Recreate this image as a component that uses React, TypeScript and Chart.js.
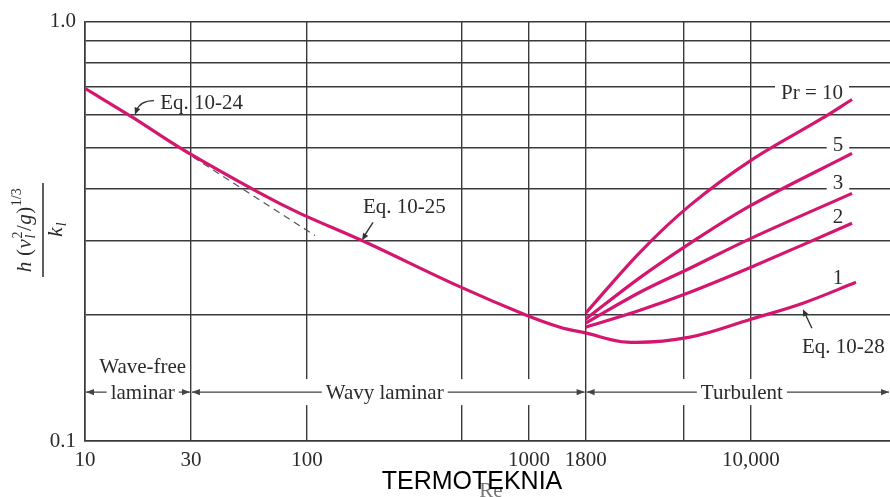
import React, { useEffect, useRef } from "react";
import { Chart, registerables } from "chart.js";

Chart.register(...registerables);

// ---------- data ----------
const xTickValues = [10, 30, 100, 500, 1000, 1800, 5000, 10000];
const xTickLabels = ["10", "30", "100", "", "1000", "1800", "", "10,000"];
const yTickValues = [0.1, 0.2, 0.3, 0.4, 0.5, 0.6, 0.7, 0.8, 0.9, 1.0];
const yTickLabels = ["0.1", "", "", "", "", "", "", "", "", "1.0"];
const xMin = 10;
const xMax = 42300;

// laminar (Eq. 10-24 / 10-25)
const laminarRe = [10, 16.4, 26.8, 61.4, 92.9, 177, 479, 949, 1380, 1800];
const laminarH = [0.693, 0.591, 0.5, 0.39, 0.349, 0.3006, 0.2343, 0.2006, 0.1868, 0.181];

// extension of Eq. 10-24 (dashed)
const dashedRe = [27.6, 108.7];
const dashedH = [0.493, 0.309];

// turbulent, Pr = 1 (Eq. 10-28)
const pr1Re = [1800, 2763, 5310, 10000, 17150, 29720];
const pr1H = [0.181, 0.1721, 0.1769, 0.1952, 0.2131, 0.239];
// Pr = 2
const pr2Re = [1800, 3162, 5310, 10000, 28530];
const pr2H = [0.1868, 0.205, 0.2263, 0.2596, 0.3304];
// Pr = 3
const pr3Re = [1800, 3162, 5310, 10000, 28530];
const pr3H = [0.191, 0.2263, 0.2582, 0.3042, 0.3895];
// Pr = 5
const pr5Re = [1800, 3162, 5310, 10000, 28530];
const pr5H = [0.1952, 0.2452, 0.296, 0.3646, 0.485];
// Pr = 10
const pr10Re = [1800, 3162, 5310, 10000, 20890, 28530];
const pr10H = [0.2017, 0.2818, 0.3646, 0.4668, 0.5875, 0.652];

// curve labels (text, Re, h)
const prLabelText = ["Pr = 10", "5", "3", "2", "1"];
const prLabelRe = [18840, 24660, 24660, 24660, 24660];
const prLabelH = [0.6776, 0.5095, 0.4136, 0.3434, 0.2457];

// regime arrows
const regimeText = [["Wave-free", "laminar"], ["Wavy laminar"], ["Turbulent"]];
const regimeFrom = [10, 30, 1800];
const regimeTo = [30, 1800, xMax];
const regimeCenterRe = [18.2, 224, 9100];
const regimeArrowH = 0.1308;
const regimeUpperH = 0.15;

// ---------- styles ----------
const SERIF = '"Liberation Serif", "Times New Roman", serif';
const SANS = '"Liberation Sans", Arial, sans-serif';
const MAGENTA = "#d4166f";
const GRID = "#3a3a3a";
const TEXT = "#2b2b2b";

const pts = (xs: number[], ys: number[]) => xs.map((x, i) => ({ x, y: ys[i] }));

function arrowHead(ctx: CanvasRenderingContext2D, x: number, y: number, ang: number, len = 8, w = 3.2) {
  ctx.beginPath();
  ctx.moveTo(x, y);
  ctx.lineTo(x - len * Math.cos(ang) + w * Math.sin(ang), y - len * Math.sin(ang) - w * Math.cos(ang));
  ctx.lineTo(x - len * Math.cos(ang) - w * Math.sin(ang), y - len * Math.sin(ang) + w * Math.cos(ang));
  ctx.closePath();
  ctx.fill();
}

const annotPlugin = {
  id: "annot",
  beforeDatasetsDraw(chart: any) {
    const { ctx, chartArea: ca, scales } = chart;
    const X = (v: number) => scales.x.getPixelForValue(v);
    const Y = (v: number) => scales.y.getPixelForValue(v);
    ctx.save();

    // white band for regime arrows
    const ay = Y(regimeArrowH);
    ctx.fillStyle = "#fff";
    for (let i = 0; i < regimeFrom.length; i++) {
      const a = X(regimeFrom[i]);
      const b = Math.min(X(regimeTo[i]), ca.right);
      ctx.fillRect(a + 1.5, ay - 13, b - a - 3, 26);
    }
    ctx.font = `21px ${SERIF}`;
    ctx.textBaseline = "middle";
    ctx.textAlign = "center";
    ctx.strokeStyle = "#444";
    ctx.lineWidth = 1.3;
    for (let i = 0; i < regimeFrom.length; i++) {
      const a = X(regimeFrom[i]) + 1;
      const b = Math.min(X(regimeTo[i]), ca.right) - 1;
      const lines = regimeText[i];
      const cx = X(regimeCenterRe[i]);
      const main = lines[lines.length - 1];
      const w = ctx.measureText(main).width;
      ctx.fillStyle = TEXT;
      ctx.fillText(main, cx, ay + 1);
      if (lines.length > 1) ctx.fillText(lines[0], cx, Y(regimeUpperH));
      ctx.beginPath();
      ctx.moveTo(a, ay);
      ctx.lineTo(cx - w / 2 - 4, ay);
      ctx.moveTo(cx + w / 2 + 4, ay);
      ctx.lineTo(b, ay);
      ctx.stroke();
      ctx.fillStyle = "#444";
      arrowHead(ctx, a, ay, Math.PI);
      arrowHead(ctx, b, ay, 0);
    }

    // Pr labels with white boxes
    ctx.font = `21px ${SERIF}`;
    for (let i = 0; i < prLabelText.length; i++) {
      const x = X(prLabelRe[i]);
      const y = Y(prLabelH[i]);
      const w = ctx.measureText(prLabelText[i]).width;
      ctx.fillStyle = "#fff";
      ctx.fillRect(x - w / 2 - 6, y - 9, w + 12, 18);
      ctx.fillStyle = TEXT;
      ctx.fillText(prLabelText[i], x, y + 1);
    }

    // Equation labels
    ctx.textAlign = "left";
    ctx.fillStyle = TEXT;
    ctx.fillText("Eq. 10-24", X(21.8), Y(0.638));
    ctx.fillText("Eq. 10-25", X(178.6), Y(0.3606));
    ctx.fillText("Eq. 10-28", X(16980), Y(0.1675));

    ctx.strokeStyle = "#333";
    ctx.fillStyle = "#333";
    ctx.lineWidth = 1.4;
    // Eq. 10-24 curved arrow
    {
      const tx = X(16.8), ty = Y(0.6);
      ctx.beginPath();
      ctx.moveTo(tx + 19, ty - 14);
      ctx.quadraticCurveTo(tx + 5, ty - 14, tx + 1.5, ty - 4);
      ctx.stroke();
      arrowHead(ctx, tx, ty, Math.atan2(14, -5), 7, 3);
    }
    // Eq. 10-25
    {
      const tx = X(177), ty = Y(0.301);
      ctx.beginPath();
      ctx.moveTo(tx + 11, ty - 18);
      ctx.lineTo(tx + 2, ty - 4);
      ctx.stroke();
      arrowHead(ctx, tx, ty, Math.atan2(18, -11), 7, 3);
    }
    // Eq. 10-28
    {
      const tx = X(17140), ty = Y(0.2062);
      ctx.beginPath();
      ctx.moveTo(tx + 9, ty + 19);
      ctx.lineTo(tx + 2, ty + 4);
      ctx.stroke();
      arrowHead(ctx, tx, ty, Math.atan2(-19, -9), 7, 3);
    }
    ctx.restore();
  },
  afterDraw(chart: any) {
    const { ctx } = chart;
    ctx.save();
    // y axis title
    ctx.translate(43, 230);
    ctx.rotate(-Math.PI / 2);
    ctx.fillStyle = TEXT;
    const fI = `italic 21px ${SERIF}`;
    const fR = `21px ${SERIF}`;
    const sI = `italic 14px ${SERIF}`;
    const sR = `14px ${SERIF}`;
    const base = -12;
    type Part = { t: string; f: string; dy: number; sub?: { t: string; f: string; dy: number } };
    const parts: Part[] = [
      { t: "h", f: fI, dy: 0 },
      { t: " (", f: fR, dy: 0 },
      { t: "ν", f: fI, dy: 0 },
      { t: "2", f: sR, dy: -9, sub: { t: "l", f: sI, dy: 4 } },
      { t: "/", f: fR, dy: 0 },
      { t: "g", f: fI, dy: 0 },
      { t: ")", f: fR, dy: 0 },
      { t: "1/3", f: sR, dy: -10 },
    ];
    const widths = parts.map((p) => {
      ctx.font = p.f;
      let w = ctx.measureText(p.t).width;
      if (p.sub) {
        ctx.font = p.sub.f;
        w = Math.max(w, ctx.measureText(p.sub.t).width);
      }
      return w + 0.5;
    });
    const total = widths.reduce((a, b) => a + b, 0);
    let x = -total / 2;
    ctx.textBaseline = "alphabetic";
    ctx.textAlign = "left";
    parts.forEach((p, i) => {
      ctx.font = p.f;
      ctx.fillText(p.t, x, base + p.dy);
      if (p.sub) {
        ctx.font = p.sub.f;
        ctx.fillText(p.sub.t, x, base + p.sub.dy);
      }
      x += widths[i];
    });
    ctx.fillRect(-47, -0.75, 94, 1.5);
    ctx.font = fI;
    const kw = ctx.measureText("k").width;
    ctx.fillText("k", -kw / 2 - 2, 19);
    ctx.font = sI;
    ctx.fillText("l", kw / 2 - 1, 23);
    ctx.restore();

    // x axis title and watermark
    ctx.save();
    ctx.textAlign = "center";
    ctx.textBaseline = "alphabetic";
    ctx.font = `21px ${SERIF}`;
    ctx.fillStyle = "#777";
    ctx.fillText("Re", 491, 497);
    ctx.font = `25px ${SANS}`;
    ctx.fillStyle = "#000";
    ctx.fillText("TERMOTEKNIA", 472, 489);
    ctx.restore();
  },
};

export default function App() {
  const ref = useRef<HTMLCanvasElement | null>(null);
  useEffect(() => {
    if (!ref.current) return;
    const lineStyle = {
      borderColor: MAGENTA,
      borderWidth: 3.2,
      pointRadius: 0,
      fill: false,
      tension: 0.35,
    };
    const chart = new Chart(ref.current, {
      type: "line",
      data: {
        datasets: [
          { ...lineStyle, label: "laminar", data: pts(laminarRe, laminarH) },
          { ...lineStyle, label: "Pr = 1", data: pts(pr1Re, pr1H) },
          { ...lineStyle, label: "Pr = 2", data: pts(pr2Re, pr2H) },
          { ...lineStyle, label: "Pr = 3", data: pts(pr3Re, pr3H) },
          { ...lineStyle, label: "Pr = 5", data: pts(pr5Re, pr5H) },
          { ...lineStyle, label: "Pr = 10", data: pts(pr10Re, pr10H) },
          {
            label: "Eq. 10-24 ext",
            data: pts(dashedRe, dashedH),
            borderColor: "#555",
            borderWidth: 1.2,
            borderDash: [7, 5],
            pointRadius: 0,
            fill: false,
          },
        ],
      },
      options: {
        animation: false,
        responsive: false,
        maintainAspectRatio: false,
        layout: { padding: { top: 21, right: 0, left: 0, bottom: 0 } },
        plugins: { legend: { display: false }, tooltip: { enabled: false } },
        scales: {
          x: {
            type: "logarithmic",
            min: xMin,
            max: xMax,
            afterBuildTicks: (s: any) => {
              s.ticks = xTickValues.map((v) => ({ value: v }));
            },
            afterFit: (s: any) => {
              s.height = 56;
            },
            grid: { color: GRID, lineWidth: 1.4, drawTicks: false },
            border: { color: GRID, width: 1.6 },
            ticks: {
              autoSkip: false,
              maxRotation: 0,
              minRotation: 0,
              padding: 7,
              color: TEXT,
              font: { family: SERIF, size: 21 },
              callback: (_v: any, i: number) => xTickLabels[i] ?? "",
            },
          },
          y: {
            type: "logarithmic",
            min: 0.1,
            max: 1.0,
            afterBuildTicks: (s: any) => {
              s.ticks = yTickValues.map((v) => ({ value: v }));
            },
            afterFit: (s: any) => {
              s.width = 85;
            },
            grid: { color: GRID, lineWidth: 1.4, drawTicks: false },
            border: { color: GRID, width: 1.6 },
            ticks: {
              autoSkip: false,
              padding: 9,
              color: TEXT,
              font: { family: SERIF, size: 21 },
              callback: (_v: any, i: number) => yTickLabels[i] ?? "",
            },
          },
        },
      } as any,
      plugins: [annotPlugin],
    });
    return () => chart.destroy();
  }, []);
  return (
    <div style={{ position: "absolute", left: 0, top: 0, width: 890, height: 497, background: "#fff" }}>
      <canvas ref={ref} width={890} height={497} style={{ display: "block" }} />
    </div>
  );
}
